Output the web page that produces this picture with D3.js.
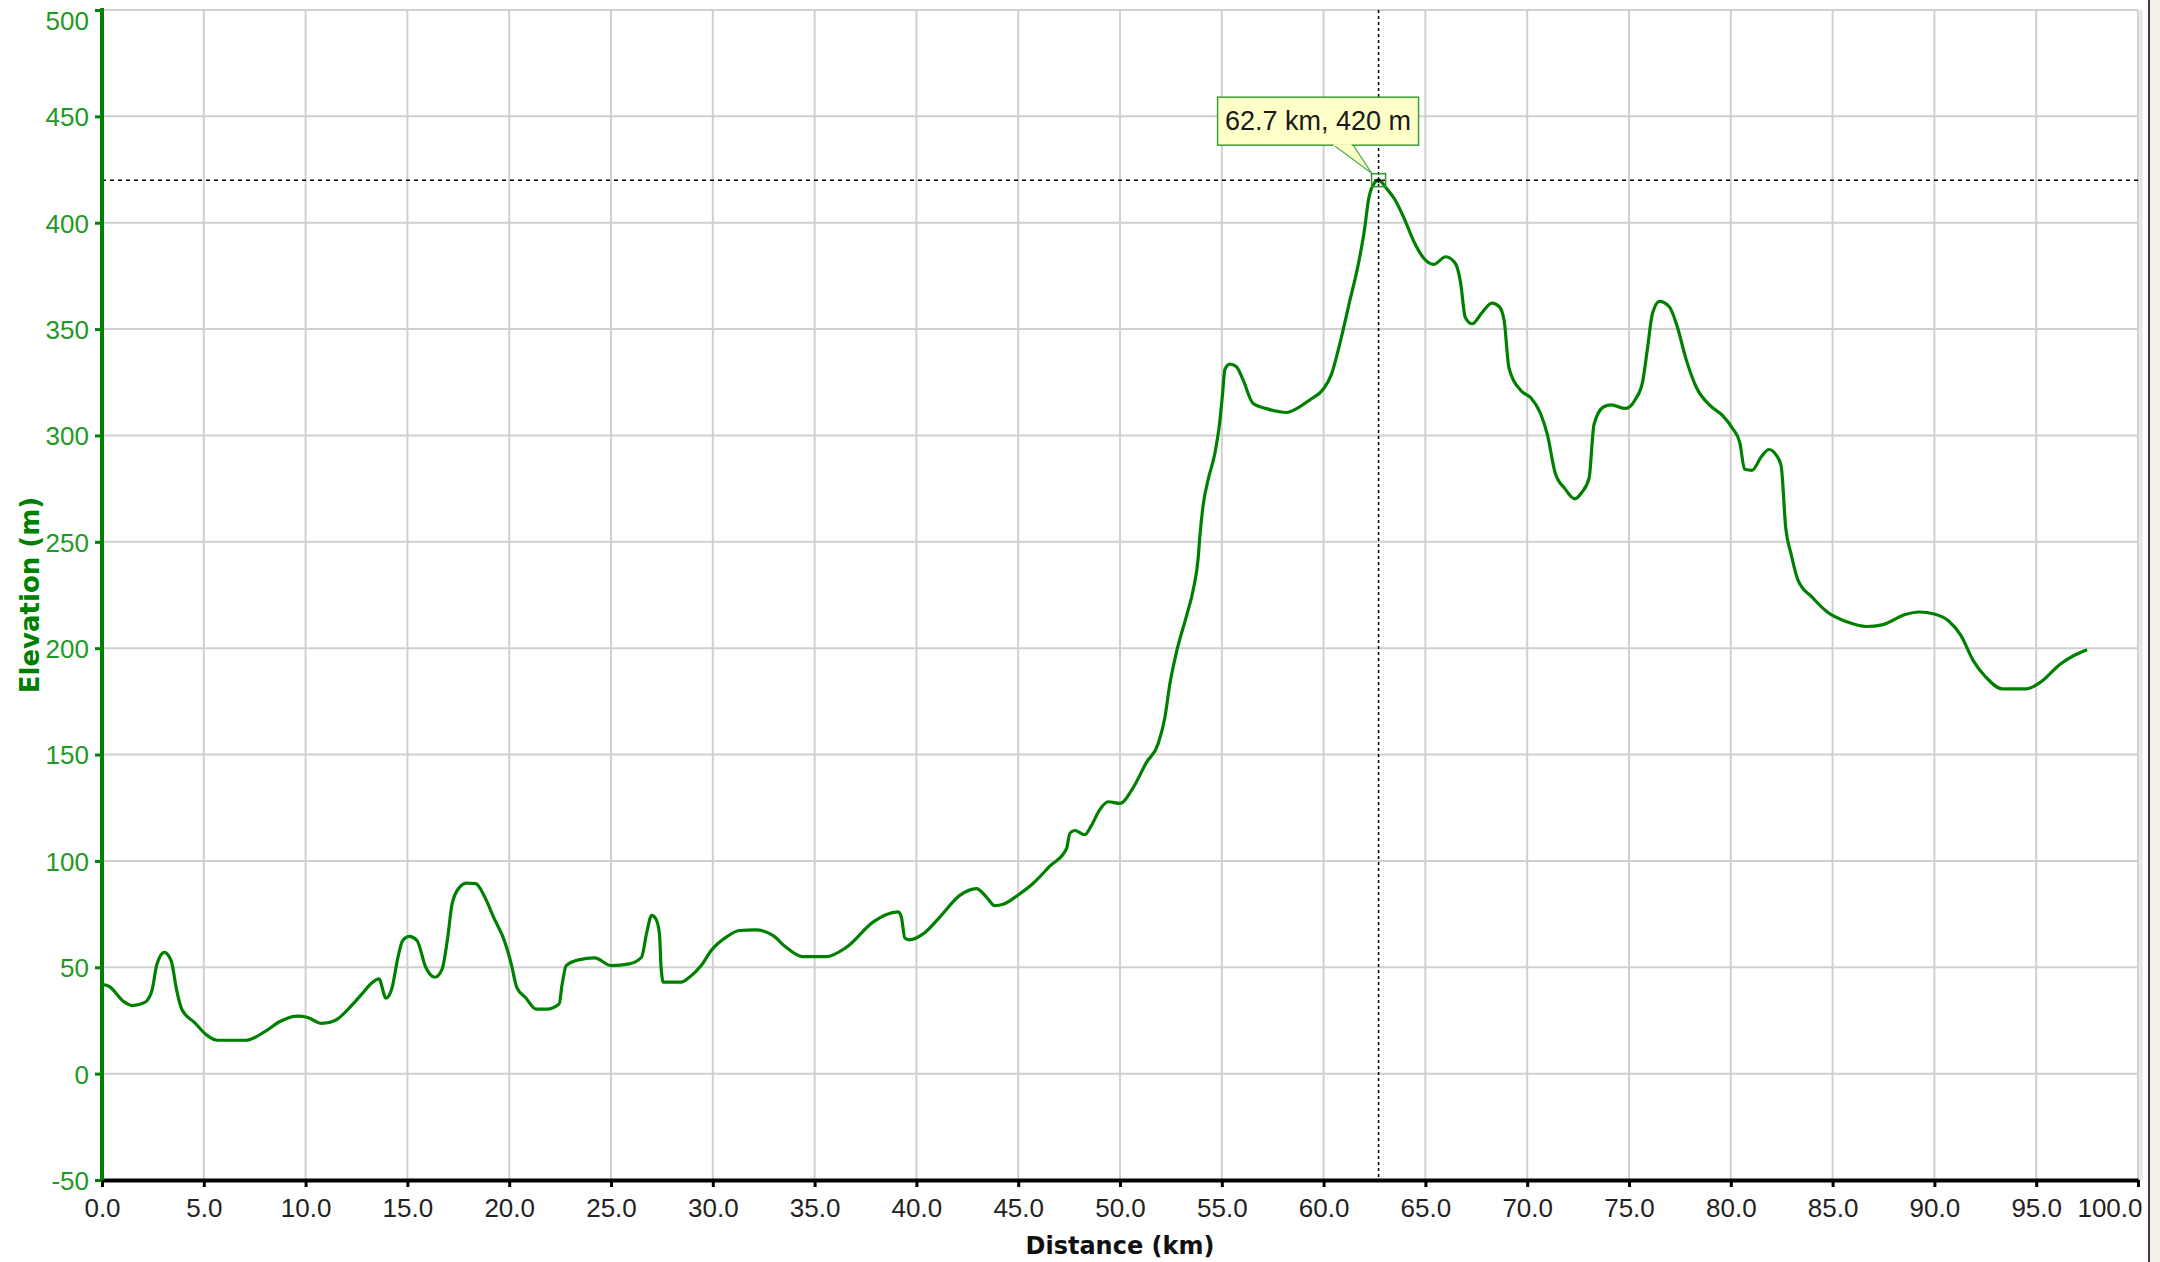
<!DOCTYPE html>
<html>
<head>
<meta charset="utf-8">
<script src="https://cdn.jsdelivr.net/npm/d3@7"></script>
<style>
  html, body { margin: 0; padding: 0; background: #ffffff; }
  svg { display: block; }
</style>
</head>
<body>
<svg id="chart" width="2160" height="1262"></svg>
<script>
// ---- data ----
const distanceKm = [
  0, 0.35, 1.05, 1.5, 2.1, 2.45, 2.7, 3.06, 3.4, 3.67, 3.93, 4.55, 5.16, 5.68, 7.08, 8.04, 8.74, 9.6, 10.1, 10.8,
  11.45, 12.06, 12.76, 13.3, 13.6, 13.95, 14.25, 14.5, 14.77, 15.1, 15.47, 15.9, 16.35, 16.7, 16.96, 17.2, 17.57, 17.9, 18.36, 18.8,
  19.23, 19.76, 20.1, 20.37, 20.8, 21.33, 21.85, 22.45, 22.6, 22.8, 23.4, 24.2, 25, 25.9, 26.5, 26.75, 27.0, 27.2, 27.38, 27.46,
  27.57, 28.44, 28.85, 29.43, 29.92, 30.66, 31.3, 32.1, 32.95, 33.6, 34.4, 35.57, 36.56, 37.87, 38.5, 39.1, 39.26, 39.43, 39.67, 40.33,
  41.15, 42.13, 42.95, 43.44, 43.85, 44.26, 45.0, 45.74, 46.55, 47.37, 47.54, 47.78, 48.27, 48.6, 49.0, 49.42, 50.0, 50.65, 51.3, 51.87,
  52.2, 52.45, 52.77, 53.27, 53.6, 53.84, 53.92, 54.08, 54.33, 54.66, 54.9, 55.03, 55.15, 55.4, 55.72, 56.05, 56.54, 57.19, 58.18, 58.67,
  59.32, 59.98, 60.38, 60.8, 61.28, 61.7, 62.02, 62.19, 62.35, 62.7, 63.1, 63.5, 63.97, 64.45, 64.93, 65.4, 66.0, 66.48, 66.72, 66.96,
  67.3, 67.8, 68.27, 68.63, 68.87, 69.1, 69.7, 70.18, 70.66, 71.0, 71.37, 71.85, 72.33, 72.68, 73.04, 73.28, 73.76, 74.12, 74.83, 75.31,
  75.67, 75.9, 76.15, 76.5, 76.98, 77.34, 77.82, 78.3, 79.0, 79.6, 80.08, 80.44, 80.68, 81.04, 81.5, 81.87, 82.23, 82.47, 82.7, 82.95,
  83.3, 84.02, 84.74, 85.7, 86.65, 87.48, 88.56, 89.27, 89.99, 90.7, 91.3, 91.9, 92.5, 93.33, 94.52, 95.24, 96.19, 96.9, 97.5
];
const elevationM = [
  42, 41, 34, 32, 33.5, 39, 51.5, 57, 53, 39, 30, 24, 18, 15.7, 15.7, 20, 24.5, 27, 26.4, 23.6,
  25, 30, 37.4, 43, 44.5, 35.5, 40.5, 53, 62.6, 64.5, 62.6, 50, 45.3, 49, 62.6, 80, 87.7, 89.6, 89.3, 83,
  73.6, 62.6, 51.6, 40.6, 35.8, 30.3, 30.3, 32.7, 42, 50.8, 53.5, 54.4, 50.8, 51.6, 54.7, 66, 74.4, 72.8, 65.7, 50,
  43, 43, 45.3, 50.8, 57.9, 64.2, 67.3, 67.6, 65, 59.4, 55, 55, 59.4, 71.2, 74.7, 76, 73.6, 63.8, 62.9, 65.7,
  73.6, 83.8, 87, 83, 79, 79.6, 84, 89.5, 97.5, 105.7, 113, 114.3, 112.3, 116.7, 124, 127.8, 127, 134.5, 146.3, 155,
  167.2, 183.3, 198, 215.3, 227.6, 242.4, 252.2, 267, 279.3, 291.6, 306.4, 318.7, 331, 333.5, 332.3, 326, 315, 312.6, 310.8, 312.6,
  316.7, 321.7, 328.6, 343.3, 363, 380.3, 397.5, 409.9, 416, 420, 416, 410.9, 401.7, 390.8, 383.2, 380.4, 384, 380.7, 372.3, 355.5,
  352.5, 358, 362.2, 360.5, 353.8, 332, 321, 317.7, 310.2, 300, 282.5, 275, 270.2, 273.2, 280, 305.1, 313.5, 314.4, 312.7, 316.9,
  325.3, 340.4, 357.2, 363, 360.5, 352.1, 335.3, 322.8, 313.9, 309.3, 303.4, 296.7, 284.1, 283.6, 290, 293.4, 290.8, 285.8, 256.4, 244.7,
  232, 223.7, 217, 212.4, 210.2, 211.1, 215.8, 217, 216.1, 212.8, 206, 194.3, 186.7, 180.9, 180.9, 184.2, 192.6, 196.8, 199.3
];
const xTicks = [0, 5, 10, 15, 20, 25, 30, 35, 40, 45, 50, 55, 60, 65, 70, 75, 80, 85, 90, 95, 100];
const yTicks = [-50, 0, 50, 100, 150, 200, 250, 300, 350, 400, 450, 500];
const xDomain = [0, 100];
const yDomain = [-50, 500];
const cursorKm = 62.7;
const cursorM = 420;
const xTitle = "Distance (km)";
const yTitle = "Elevation (m)";

// ---- layout ----
const plotLeft = 102, plotRight = 2138, plotTop = 10, plotBottom = 1180;
const svg = d3.select("#chart");

const x = d3.scaleLinear().domain(xDomain).range([plotLeft, plotRight]);
const y = d3.scaleLinear().domain(yDomain).range([plotBottom, plotTop]);

// window frame on the right
svg.append("rect").attr("x", 2150).attr("y", 0).attr("width", 10).attr("height", 1262).attr("fill", "#f3f0ea");
svg.append("line").attr("x1", 2149).attr("x2", 2149).attr("y1", 0).attr("y2", 1262)
  .attr("stroke", "#3a3a3a").attr("stroke-width", 2);
svg.append("line").attr("x1", 2141).attr("x2", 2141).attr("y1", plotTop).attr("y2", plotBottom)
  .attr("stroke", "#e4e4e4").attr("stroke-width", 3);

// grid
const grid = svg.append("g");
grid.selectAll("line.v").data(xTicks.filter(d => d > 0)).enter().append("line")
  .attr("x1", d => x(d)).attr("x2", d => x(d))
  .attr("y1", plotTop).attr("y2", plotBottom)
  .attr("stroke", "#d0d0d0").attr("stroke-width", 2);
grid.selectAll("line.h").data(yTicks.filter(d => d > -50)).enter().append("line")
  .attr("x1", plotLeft).attr("x2", plotRight)
  .attr("y1", d => y(d)).attr("y2", d => y(d))
  .attr("stroke", "#d0d0d0").attr("stroke-width", 2);

// crosshair
svg.append("line")
  .attr("x1", plotLeft).attr("x2", plotRight)
  .attr("y1", y(cursorM)).attr("y2", y(cursorM))
  .attr("stroke", "#000").attr("stroke-width", 1.5).attr("stroke-dasharray", "4,4");
svg.append("line")
  .attr("x1", x(cursorKm)).attr("x2", x(cursorKm))
  .attr("y1", plotTop).attr("y2", plotBottom)
  .attr("stroke", "#000").attr("stroke-width", 1.5).attr("stroke-dasharray", "3,3");

// elevation line
const pts = distanceKm.map((d, i) => [d, elevationM[i]]);
const line = d3.line().x(d => x(d[0])).y(d => y(d[1])).curve(d3.curveMonotoneX);
svg.append("path").datum(pts)
  .attr("d", line)
  .attr("fill", "none").attr("stroke", "#008000").attr("stroke-width", 3.2)
  .attr("stroke-linejoin", "round");

// x axis
const xAxis = d3.axisBottom(x).tickValues(xTicks).tickFormat(d3.format(".1f")).tickSize(7).tickSizeOuter(0);
const gx = svg.append("g").attr("transform", `translate(0,${plotBottom})`).call(xAxis);
gx.select(".domain").attr("stroke", "#000").attr("stroke-width", 4);
gx.selectAll(".tick line").attr("stroke", "#000").attr("stroke-width", 3);
gx.selectAll(".tick text")
  .attr("fill", "#222").attr("font-family", "'Liberation Sans', Arial, sans-serif")
  .attr("font-size", 26).attr("dy", "0.95em").attr("y", 12);
// last label kept inside the frame, as in the reference
gx.selectAll(".tick text").filter(d => d === xDomain[1])
  .attr("text-anchor", "end").attr("x", 4);

// y axis
const yAxis = d3.axisLeft(y).tickValues(yTicks).tickFormat(d => String(d)).tickSize(7).tickSizeOuter(0);
const gy = svg.append("g").attr("transform", `translate(${plotLeft},0)`).call(yAxis);
gy.select(".domain").attr("stroke", "#008000").attr("stroke-width", 4)
  .attr("d", `M0,${plotTop - 2}V${plotBottom}`);
gy.selectAll(".tick line").attr("stroke", "#008000").attr("stroke-width", 3);
gy.selectAll(".tick text")
  .attr("fill", "#229922").attr("font-family", "'Liberation Sans', Arial, sans-serif")
  .attr("font-size", 26).attr("x", -13).attr("dy", "0.36em");
// top label clamped inside the page
gy.selectAll(".tick text").filter(d => d === yDomain[1])
  .attr("dy", "0.75em");

// axis titles
svg.append("text")
  .attr("x", (plotLeft + plotRight) / 2).attr("y", 1254)
  .attr("text-anchor", "middle")
  .attr("font-family", "'DejaVu Sans', sans-serif").attr("font-weight", "bold")
  .attr("font-size", 24).attr("fill", "#111")
  .text(xTitle);
svg.append("text")
  .attr("transform", `translate(39,${(plotTop + plotBottom) / 2}) rotate(-90)`)
  .attr("text-anchor", "middle")
  .attr("font-family", "'DejaVu Sans', sans-serif").attr("font-weight", "bold")
  .attr("font-size", 26).attr("fill", "#008000")
  .text(yTitle);

// cursor marker + tooltip
const cx = x(cursorKm), cy = y(cursorM);
const tip = svg.append("g");
tip.append("path")
  .attr("d", `M${cx - 46},${cy - 36} L${cx - 7},${cy - 7} L${cx - 26},${cy - 36} Z`)
  .attr("fill", "#ffffc8").attr("stroke", "#4caf4c").attr("stroke-width", 1.2);
tip.append("rect")
  .attr("x", cx - 161).attr("y", cy - 83).attr("width", 201).attr("height", 48)
  .attr("fill", "#ffffc8").attr("stroke", "#3c9f3c").attr("stroke-width", 1.5);
tip.append("line")
  .attr("x1", cx - 45).attr("x2", cx - 27).attr("y1", cy - 35).attr("y2", cy - 35)
  .attr("stroke", "#ffffc8").attr("stroke-width", 2);
tip.append("text")
  .attr("x", cx - 60.5).attr("y", cy - 50)
  .attr("text-anchor", "middle")
  .attr("font-family", "'Liberation Sans', Arial, sans-serif").attr("font-size", 27)
  .attr("fill", "#1a1a1a")
  .text(`${d3.format(".1f")(cursorKm)} km, ${cursorM} m`);
svg.append("rect")
  .attr("x", cx - 7).attr("y", cy - 6.5).attr("width", 14).attr("height", 13)
  .attr("fill", "none").attr("stroke", "#2a9a2a").attr("stroke-width", 1.5);
svg.append("path")
  .attr("d", `M${cx - 3},${cy}H${cx + 3}M${cx},${cy - 3}V${cy + 3}`)
  .attr("stroke", "#000").attr("stroke-width", 1.5);
</script>
</body>
</html>
